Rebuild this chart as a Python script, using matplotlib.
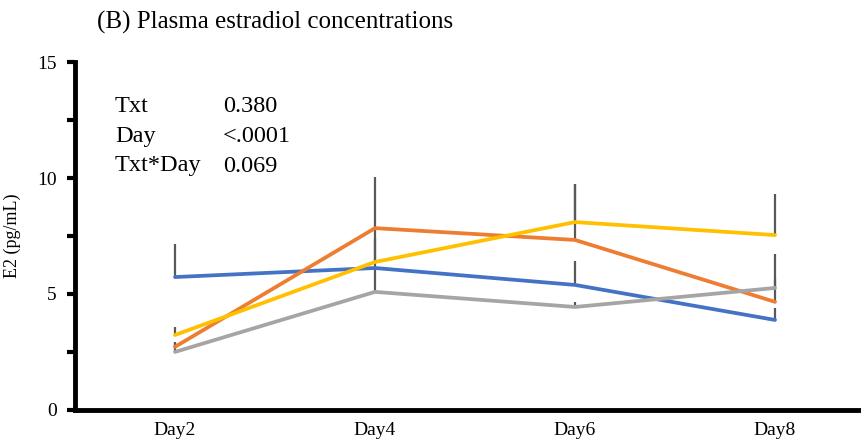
import matplotlib
matplotlib.use("Agg")
from matplotlib import pyplot as plt

plt.rcParams["font.family"] = ["Liberation Serif", "DejaVu Serif"]

days = ["Day2", "Day4", "Day6", "Day8"]

# mean E2 (pg/mL) per treatment
blue_vals = [5.73, 6.12, 5.39, 3.88]
orange_vals = [2.72, 7.84, 7.33, 4.66]
yellow_vals = [3.23, 6.38, 8.10, 7.54]
gray_vals = [2.50, 5.09, 4.44, 5.26]

# upper error (SE)
blue_err = [1.43, 1.30, 1.03, 0.52]
orange_err = [0.15, 2.20, 2.41, 2.06]
yellow_err = [0.35, 1.50, 1.64, 1.77]
gray_err = [0.43, 1.00, 0.22, 0.40]

stats_names = ["Txt", "Day", "Txt*Day"]
stats_p = ["0.380", "<.0001", "0.069"]

series = [
    (blue_vals, blue_err, "#4472C4"),
    (orange_vals, orange_err, "#ED7D31"),
    (yellow_vals, yellow_err, "#FFC000"),
    (gray_vals, gray_err, "#A5A5A5"),
]

fig = plt.figure(figsize=(8.61, 4.47), dpi=100)
ax = fig.add_axes([75 / 861, 0.083, 786 / 861, 0.778])

x = list(range(len(days)))

# error bars first so the lines sit on top
for vals, err, color in series:
    ax.errorbar(x, vals, yerr=[[0] * len(err), err], fmt="none",
                ecolor="#595959", elinewidth=1.6, capsize=0, zorder=1)
for vals, err, color in series:
    ax.plot(x, vals, color=color, linewidth=2.7, solid_capstyle="round", zorder=2)

ax.set_xlim(-0.5, 3.43)
ax.set_ylim(0, 15)
ax.set_xticks(x)
ax.set_xticklabels(days, fontsize=14)
ax.set_yticks([0, 5, 10, 15])
ax.set_yticks([2.5, 7.5, 12.5], minor=True)
ax.tick_params(axis="x", length=0, pad=9)
ax.tick_params(axis="y", which="both", direction="out", length=6, width=3,
               labelsize=14, pad=7)

for side in ["top", "right"]:
    ax.spines[side].set_visible(False)
ax.spines["left"].set_linewidth(3.5)
ax.spines["bottom"].set_linewidth(3.5)

ax.set_ylabel("E2 (pg/mL)", fontsize=13, labelpad=12)

fig.text(0.113, 0.95, "(B) Plasma estradiol concentrations", fontsize=18,
         ha="left", va="center")

for i, (name, p) in enumerate(zip(stats_names, stats_p)):
    y = 1 - (107 + i * 29.5) / 447
    fig.text(115 / 861, y, name, fontsize=17.5, ha="left", va="center")
    fig.text(223 / 861, y, p, fontsize=17.5, ha="left", va="center")

fig.savefig("out.png", dpi=100)
